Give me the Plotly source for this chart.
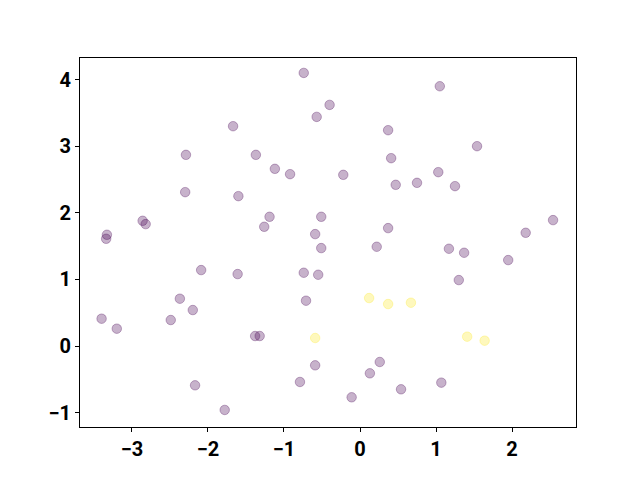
import plotly.graph_objects as go

purple_x = [-0.74, -0.40, -0.57, -1.67, 0.37, 1.05, 1.54, -2.29, -1.37, -1.12,
            -0.92, -0.22, 0.41, 0.47, 0.75, 1.03, 1.25, -2.30, -1.60, 2.54,
            -2.86, -2.82, -1.19, -0.51, -1.26, -0.59, 0.37, -3.33, -3.34, 2.18,
            -0.51, 0.22, 1.17, 1.37, 1.95, 1.30, -2.09, -1.61, -0.74, -0.55,
            -2.37, -0.71, -3.40, -2.49, -3.20, -2.20, -1.38, -1.32, -0.59, 0.26,
            0.13, -0.79, 1.07, 0.54, -2.17, -0.11, -1.78]
purple_y = [4.10, 3.62, 3.44, 3.30, 3.24, 3.90, 3.00, 2.87, 2.87, 2.66,
            2.58, 2.57, 2.82, 2.42, 2.45, 2.61, 2.40, 2.31, 2.25, 1.89,
            1.88, 1.83, 1.94, 1.94, 1.79, 1.68, 1.77, 1.67, 1.61, 1.70,
            1.47, 1.49, 1.46, 1.40, 1.29, 0.99, 1.14, 1.08, 1.10, 1.07,
            0.71, 0.68, 0.41, 0.39, 0.26, 0.54, 0.15, 0.15, -0.29, -0.24,
            -0.41, -0.54, -0.55, -0.65, -0.59, -0.77, -0.96]
yellow_x = [0.12, 0.37, 0.67, 1.41, 1.64, -0.59]
yellow_y = [0.72, 0.63, 0.65, 0.14, 0.08, 0.12]

x_ticks = [-3, -2, -1, 0, 1, 2]
y_ticks = [-1, 0, 1, 2, 3, 4]

fig = go.Figure()
fig.add_trace(go.Scatter(x=purple_x, y=purple_y, mode="markers",
                         marker=dict(size=9.5, color="rgba(68,1,84,0.3)",
                                     line=dict(color="rgba(68,1,84,0.3)", width=1))))
fig.add_trace(go.Scatter(x=yellow_x, y=yellow_y, mode="markers",
                         marker=dict(size=9.5, color="rgba(253,231,37,0.3)",
                                     line=dict(color="rgba(253,231,37,0.3)", width=1))))

axis_common = dict(showgrid=False, zeroline=False, showline=True, mirror=True,
                   linecolor="black", linewidth=1, ticks="outside", ticklen=4,
                   tickcolor="black", tickwidth=1,
                   tickfont=dict(family="Roboto", size=20, color="black", weight="bold"))
fig.update_xaxes(range=[-3.684, 2.842], tickvals=x_ticks,
                 ticktext=[str(v).replace("-", "\u2212") for v in x_ticks], **axis_common)
fig.update_yaxes(range=[-1.216, 4.324], tickvals=y_ticks,
                 ticktext=[str(v).replace("-", "\u2212") for v in y_ticks], **axis_common)
fig.update_layout(width=624, height=464, showlegend=False,
                  margin=dict(l=72, r=56, t=50, b=45),
                  plot_bgcolor="white", paper_bgcolor="white")
fig.write_html("out.html")
